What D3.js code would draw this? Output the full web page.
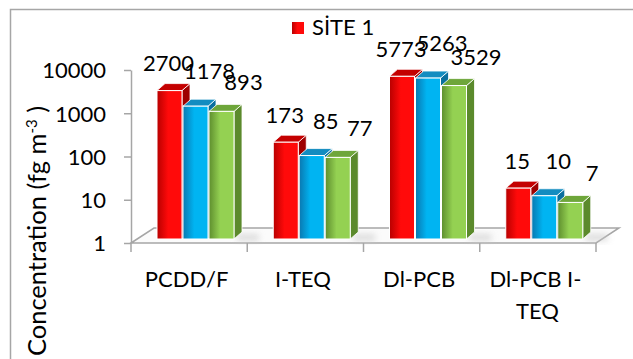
<!DOCTYPE html>
<html>
<head>
<meta charset="utf-8">
<script src="https://cdn.jsdelivr.net/npm/d3@7"></script>
<style>
  html, body { margin: 0; padding: 0; background: #fff; }
  svg { display: block; }
  text { font-family: Lato, "Open Sans", sans-serif; fill: #000; }
</style>
</head>
<body>
<svg id="chart" width="633" height="359"></svg>
<script>
// ---- data ----
const categories = ["PCDD/F", "I-TEQ", "Dl-PCB", "Dl-PCB I-TEQ"];
const site1 = [2700, 173, 5773, 15];
const site2 = [1178, 85, 5263, 10];
const site3 = [893, 77, 3529, 7];
const legendLabels = ["SİTE 1"];
const yTicks = [1, 10, 100, 1000, 10000];

// ---- setup ----
const W = 633, H = 359;
const svg = d3.select("#chart");
const defs = svg.append("defs");

const seriesVals = [site1, site2, site3];
const colors = [
  { dark: "#b80000", light: "#ff0a0a", side: "#9e0000", top: "#c40000" },
  { dark: "#0a78b0", light: "#00b4f2", side: "#0a6f9e", top: "#138cc0" },
  { dark: "#5e8e2e", light: "#94d152", side: "#5b8a2c", top: "#6ea63a" }
];
colors.forEach((c, i) => {
  const g = defs.append("linearGradient").attr("id", "grad" + i)
    .attr("x1", "0").attr("x2", "1").attr("y1", "0").attr("y2", "0");
  g.append("stop").attr("offset", "0").attr("stop-color", c.dark);
  g.append("stop").attr("offset", "0.45").attr("stop-color", c.light);
  g.append("stop").attr("offset", "1").attr("stop-color", c.light);
});
const shadowF = defs.append("filter").attr("id", "blur")
  .attr("x", "-50%").attr("y", "-50%").attr("width", "200%").attr("height", "200%");
shadowF.append("feGaussianBlur").attr("stdDeviation", 3);

// border (chart area frame, cropped)
svg.append("path").attr("d", `M10.5,${H} L10.5,9.5 L${W},9.5`)
  .attr("fill", "none").attr("stroke", "#a6a6a6").attr("stroke-width", 1.5);

// scales
const x = d3.scaleBand().domain(categories).range([131, 596]).paddingInner(0).paddingOuter(0);
const y = d3.scaleLog().domain([1, 10000]).range([243, 70]);
const inner = d3.scaleBand().domain([0, 1, 2]).range([26, 104]).padding(0);

// 3D geometry
const depthX = 23, depthY = -15;     // floor depth
const barDx = 8, barDy = -7;         // bar depth
const barShiftY = -4;                // bar front plane relative to floor front
const barW = inner.bandwidth() - 1;

// floor
const x0 = x.range()[0], x1 = x.range()[1], yb = y(1);
svg.append("polygon")
  .attr("points", [[x0, yb], [x0 + depthX, yb + depthY], [x1 + depthX, yb + depthY], [x1, yb]].map(p => p.join(",")).join(" "))
  .attr("fill", "#fbfbfb").attr("stroke", "#a6a6a6").attr("stroke-width", 1.5);

// shadows on the floor
categories.forEach(cat => {
  const gx = x(cat) + inner.range()[1] + barDx;
  svg.append("rect").attr("x", gx - 6).attr("y", yb - 9).attr("width", 22).attr("height", 7)
    .attr("fill", "#c8c8c8").attr("opacity", 0.6).attr("filter", "url(#blur)");
});

// y axis
const yAxis = d3.axisLeft(y).tickValues(yTicks).tickFormat(d3.format("d"))
  .tickSize(7).tickSizeOuter(0).tickPadding(18);
const ya = svg.append("g").attr("transform", `translate(${x0},0)`).call(yAxis);
ya.select(".domain").attr("stroke", "#a6a6a6").attr("stroke-width", 1.5);
ya.selectAll(".tick line").attr("stroke", "#a6a6a6").attr("stroke-width", 1.5);
ya.selectAll(".tick text").attr("font-size", 22).attr("font-family", "Lato, sans-serif")
  .attr("fill", "#000").attr("dy", "0.36em");

// x axis ticks at category boundaries
const bounds = categories.map(c => x(c)).concat([x1]);
svg.selectAll(".xtick").data(bounds).enter().append("line")
  .attr("x1", d => d).attr("x2", d => d).attr("y1", yb).attr("y2", yb + 9)
  .attr("stroke", "#a6a6a6").attr("stroke-width", 1.5);

// x category labels, wrapping after a hyphen when too wide
const xl = svg.append("g");
categories.forEach(cat => {
  const cx = x(cat) + x.bandwidth() / 2 - 2.5;
  const t = xl.append("text").attr("x", cx).attr("y", 287)
    .attr("text-anchor", "middle").attr("font-size", 22).text(cat);
  if (t.node().getComputedTextLength() > x.bandwidth() - 8) {
    const cut = cat.lastIndexOf("-") + 1;
    t.text(null);
    t.append("tspan").attr("x", cx).attr("dy", 0).text(cat.slice(0, cut));
    t.append("tspan").attr("x", cx + 2).attr("dy", 32).text(cat.slice(cut));
  }
});

// bars
const bars = svg.append("g");
categories.forEach((cat, ci) => {
  seriesVals.forEach((vals, si) => {
    const v = vals[ci];
    const bx = x(cat) + inner(si);
    const top = y(v) + barShiftY;
    const bot = y(1) + barShiftY;
    const c = colors[si];
    const g = bars.append("g");
    g.append("polygon")
      .attr("points", [[bx + barW, top], [bx + barW + barDx, top + barDy], [bx + barW + barDx, bot + barDy], [bx + barW, bot]].map(p => p.join(",")).join(" "))
      .attr("fill", c.side).attr("stroke", "#fff").attr("stroke-width", 0.8);
    g.append("polygon")
      .attr("points", [[bx, top], [bx + barDx, top + barDy], [bx + barW + barDx, top + barDy], [bx + barW, top]].map(p => p.join(",")).join(" "))
      .attr("fill", c.top).attr("stroke", "#fff").attr("stroke-width", 0.8);
    g.append("rect").attr("x", bx).attr("y", top).attr("width", barW).attr("height", bot - top)
      .attr("fill", `url(#grad${si})`).attr("stroke", "#fff").attr("stroke-width", 1);
  });
});

// data labels
const labelDx = [-1, 14, 22];
const labelGap = [19.5, 27, 21];
const lab = svg.append("g");
categories.forEach((cat, ci) => {
  seriesVals.forEach((vals, si) => {
    const v = vals[ci];
    const cx = x(cat) + inner(si) + barW / 2 + labelDx[si];
    lab.append("text").attr("x", cx).attr("y", y(v) + barShiftY - labelGap[si])
      .attr("text-anchor", "middle").attr("font-size", 22).text(d3.format("d")(v));
  });
});

// legend
const lg = svg.append("g");
legendLabels.forEach((l, i) => {
  lg.append("rect").attr("x", 292).attr("y", 22).attr("width", 12).attr("height", 12)
    .attr("fill", `url(#grad${i})`);
  lg.append("text").attr("x", 312).attr("y", 35).attr("font-size", 22).text(l);
});

// y axis title
const yt = svg.append("text")
  .attr("transform", `translate(46,${231}) rotate(-90)`)
  .attr("text-anchor", "middle").attr("font-size", 25.5);
yt.append("tspan").text("Concentration (fg m");
yt.append("tspan").attr("font-size", 15).attr("baseline-shift", "super").text("-3");
yt.append("tspan").text(" )");
</script>
</body>
</html>
